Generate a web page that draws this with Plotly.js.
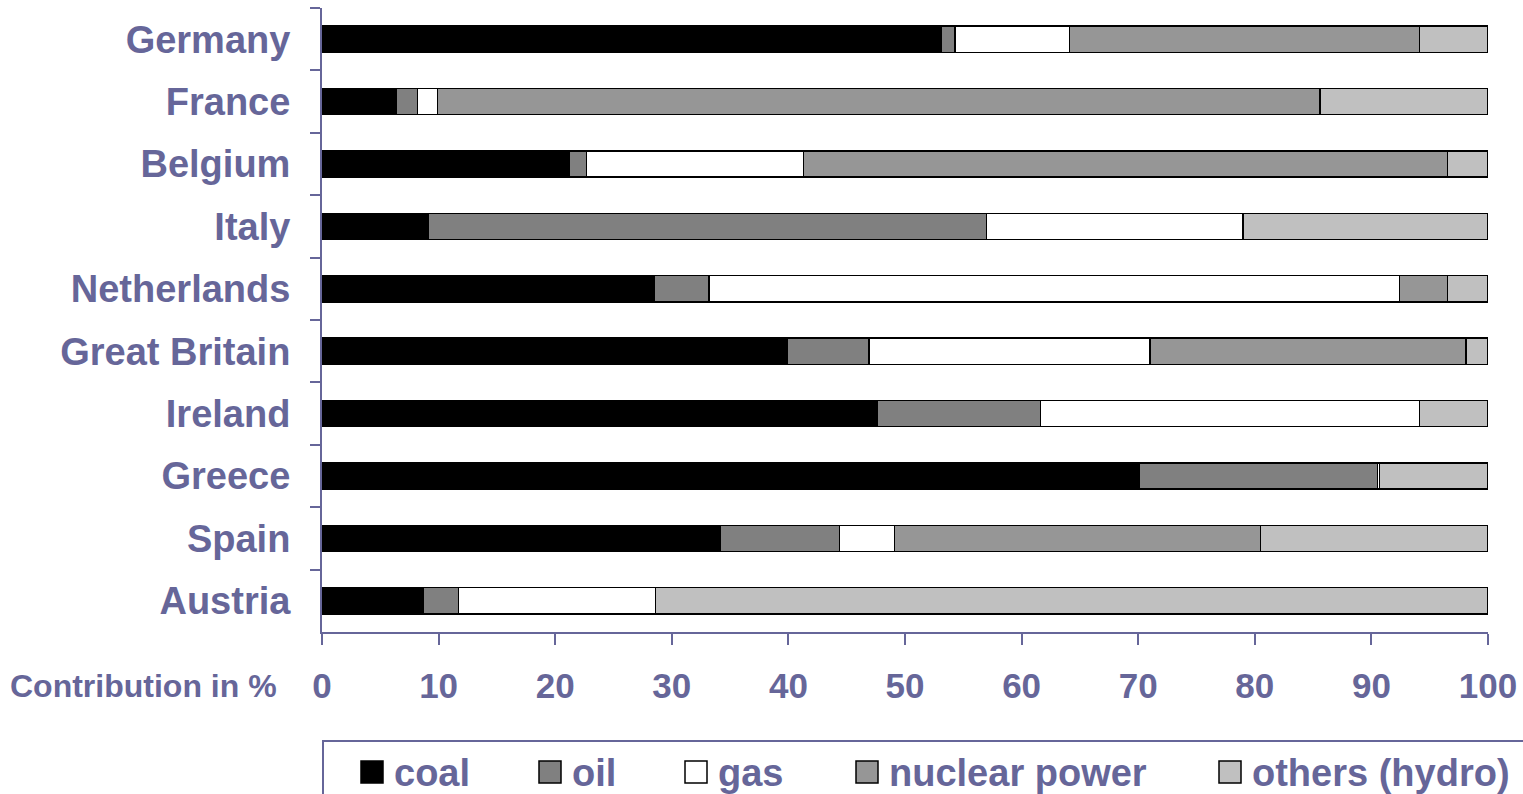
<!DOCTYPE html>
<html>
<head>
<meta charset="utf-8">
<script src="https://cdn.plot.ly/plotly-3.0.1.min.js"></script>
<style>
html,body{margin:0;padding:0;background:#fff;}
#chart{width:1523px;height:794px;}
</style>
</head>
<body>
<div id="chart"></div>
<script>
// ---- data ----
const countries = ['Germany','France','Belgium','Italy','Netherlands','Great Britain','Ireland','Greece','Spain','Austria'];
const coal    = [53.1,  6.4, 21.2,  9.1, 28.5, 39.9, 47.6, 70.1, 34.2,  8.7];
const oil     = [ 1.2,  1.8,  1.5, 47.9,  4.7,  7.0, 14.0, 20.4, 10.2,  3.0];
const gas     = [ 9.8,  1.7, 18.6, 22.0, 59.2, 24.1, 32.5,  0.2,  4.7, 16.9];
const nuclear = [30.0, 75.7, 55.2,  0.0,  4.1, 27.1,  0.0,  0.0, 31.4,  0.0];
const others  = [ 5.9, 14.4,  3.5, 21.0,  3.5,  1.9,  5.9,  9.3, 19.5, 71.4];
const seriesNames  = ['coal','oil','gas','nuclear power','others (hydro)'];
const seriesValues = [coal, oil, gas, nuclear, others];
const seriesColors = ['#000000','#808080','#ffffff','#969696','#c0c0c0'];
const xTicks = [0,10,20,30,40,50,60,70,80,90,100];
const xAxisLabel = 'Contribution in %';

// ---- styling ----
const txtColor = '#666699';
const boldFont = 'Liberation Sans, Arial, sans-serif';

const traces = seriesNames.map((name, i) => ({
  type: 'bar',
  orientation: 'h',
  name: name,
  y: countries,
  x: seriesValues[i],
  marker: {color: seriesColors[i], line: {color: '#000000', width: 1.3}},
  showlegend: false,
  hoverinfo: 'x+y+name'
}));

// custom legend (box, squares, labels) below the plot
const W = 1523, H = 794, ml = 322, mr = 35, mt = 8, mb = 162;
const pw = W - ml - mr, ph = H - mt - mb;
const px = v => (v - ml) / pw;          // pixel -> paper x
const py = v => (H - mb - v) / ph;      // pixel -> paper y
const legendSquareX = [361, 539, 685, 856, 1219];
const legendY = 772, sq = 22;

const shapes = [{
  type: 'rect', xref: 'paper', yref: 'paper',
  x0: px(323), x1: px(1600), y0: py(741), y1: py(900),
  line: {color: txtColor, width: 2}, fillcolor: 'rgba(0,0,0,0)'
}];
const annotations = [{
  xref: 'paper', yref: 'paper', x: px(279), y: py(686),
  xanchor: 'right', yanchor: 'middle', showarrow: false,
  text: xAxisLabel,
  font: {family: boldFont, size: 32, weight: 'bold', color: txtColor}
}];
seriesNames.forEach((name, i) => {
  const x0 = legendSquareX[i];
  shapes.push({
    type: 'rect', xref: 'paper', yref: 'paper',
    x0: px(x0), x1: px(x0 + sq), y0: py(legendY - sq / 2), y1: py(legendY + sq / 2),
    line: {color: '#000000', width: 1.5}, fillcolor: seriesColors[i]
  });
  annotations.push({
    xref: 'paper', yref: 'paper', x: px(x0 + sq + 9), y: py(legendY + 1),
    xanchor: 'left', yanchor: 'middle', showarrow: false,
    text: name,
    font: {family: boldFont, size: 38, weight: 'bold', color: txtColor}
  });
});

const layout = {
  width: W, height: H,
  margin: {l: ml, r: mr, t: mt, b: mb, pad: 0},
  paper_bgcolor: '#ffffff', plot_bgcolor: '#ffffff',
  barmode: 'stack',
  bargap: 0.58,
  showlegend: false,
  xaxis: {
    range: [0, 100], tickvals: xTicks, ticktext: xTicks.map(String),
    showgrid: false, zeroline: false,
    showline: true, linecolor: txtColor, linewidth: 2,
    ticks: 'outside', ticklen: 11, tickwidth: 2, tickcolor: txtColor,
    tickfont: {family: boldFont, size: 35, weight: 'bold', color: txtColor},
    ticklabelstandoff: 11,
    fixedrange: true
  },
  yaxis: {
    type: 'category', range: [9.5, -0.5],
    showgrid: false, zeroline: false,
    showline: true, linecolor: txtColor, linewidth: 2,
    ticks: 'outside', ticklen: 10, tickwidth: 2, tickcolor: txtColor,
    tickson: 'boundaries',
    tickfont: {family: boldFont, size: 38, weight: 'bold', color: txtColor},
    ticklabelstandoff: 22,
    fixedrange: true
  },
  shapes: shapes,
  annotations: annotations
};

Plotly.newPlot('chart', traces, layout, {displayModeBar: false, staticPlot: true});
</script>
</body>
</html>
